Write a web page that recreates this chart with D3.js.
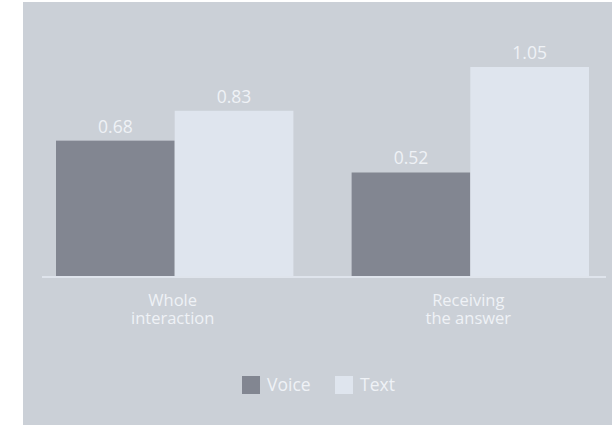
<!DOCTYPE html>
<html>
<head>
<meta charset="utf-8">
<script src="https://cdn.jsdelivr.net/npm/d3@7"></script>
<style>
  body { margin: 0; background: #ffffff; }
  svg text { font-family: "Open Sans", sans-serif; font-weight: 400; }
</style>
</head>
<body>
<div id="chart"></div>
<script>
var categories = [["Whole", "interaction"], ["Receiving", "the answer"]];
var seriesNames = ["Voice", "Text"];
var voiceValues = [0.68, 0.52];
var textValues = [0.83, 1.05];

var colors = { Voice: "#828691", Text: "#dfe5ee" };

var svgWidth = 612;
var svgHeight = 425;

var svg = d3.select("#chart")
  .append("svg")
  .attr("width", svgWidth)
  .attr("height", svgHeight);

// grey panel
svg.append("rect")
  .attr("x", 23)
  .attr("y", 2)
  .attr("width", svgWidth - 23)
  .attr("height", svgHeight - 2)
  .attr("fill", "#cbd0d7");

var baseY = 276;

var x0 = d3.scaleBand()
  .domain(d3.range(categories.length))
  .range([56, 589])
  .paddingInner(0.197);

var x1 = d3.scaleBand()
  .domain(seriesNames)
  .range([0, x0.bandwidth()]);

var y = d3.scaleLinear()
  .domain([0, 1.05])
  .range([baseY, 67]);

var rows = categories.map(function(c, i) {
  return [
    { key: "Voice", value: voiceValues[i] },
    { key: "Text", value: textValues[i] }
  ];
});

var groups = svg.selectAll(".group")
  .data(rows)
  .enter()
  .append("g")
  .attr("class", "group")
  .attr("transform", (d, i) => `translate(${x0(i)}, 0)`);

groups.selectAll("rect")
  .data(d => d)
  .enter()
  .append("rect")
  .attr("x", d => x1(d.key))
  .attr("y", d => y(d.value))
  .attr("width", x1.bandwidth())
  .attr("height", d => baseY - y(d.value))
  .attr("fill", d => colors[d.key]);

groups.selectAll(".val")
  .data(d => d)
  .enter()
  .append("text")
  .attr("class", "val")
  .attr("x", d => x1(d.key) + x1.bandwidth() / 2)
  .attr("y", d => y(d.value) - 8)
  .attr("text-anchor", "middle")
  .attr("font-size", "17.5px")
  .attr("fill", "#eff2f6")
  .text(d => d.value.toFixed(2));

// baseline
svg.append("line")
  .attr("x1", 42)
  .attr("x2", 606)
  .attr("y1", baseY + 1)
  .attr("y2", baseY + 1)
  .attr("stroke", "#dfe4ec")
  .attr("stroke-width", 2);

// category labels, two lines each
var catLabels = svg.selectAll(".cat")
  .data(categories)
  .enter()
  .append("text")
  .attr("class", "cat")
  .attr("text-anchor", "middle")
  .attr("font-size", "16.5px")
  .attr("fill", "#eff2f6");

catLabels.each(function(d, i) {
  var t = d3.select(this);
  var cx = x0(i) + x0.bandwidth() / 2 - 2;
  d.forEach(function(line, j) {
    t.append("tspan")
      .attr("x", cx)
      .attr("y", 306 + j * 17.5)
      .text(line);
  });
});

// legend
var legendX = [242, 335];
var legend = svg.selectAll(".legend")
  .data(seriesNames)
  .enter()
  .append("g")
  .attr("class", "legend")
  .attr("transform", (d, i) => `translate(${legendX[i]}, 376)`);

legend.append("rect")
  .attr("width", 18)
  .attr("height", 18)
  .attr("fill", d => colors[d]);

legend.append("text")
  .attr("x", 25)
  .attr("y", 15)
  .attr("font-size", "17.5px")
  .attr("fill", "#eff2f6")
  .text(d => d);
</script>
</body>
</html>
